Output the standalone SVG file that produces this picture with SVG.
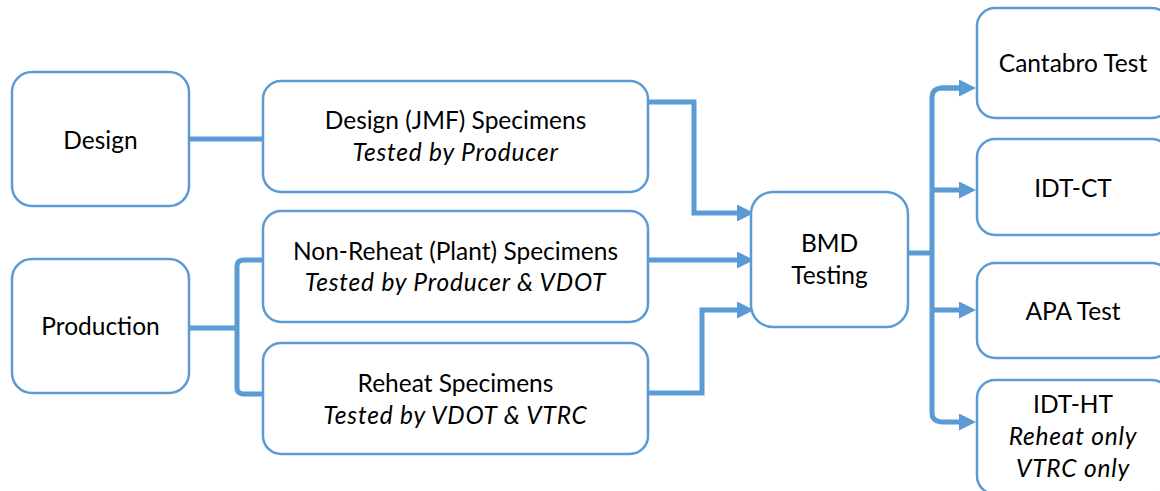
<svg xmlns="http://www.w3.org/2000/svg" width="1160" height="491" viewBox="0 0 1160 491">
  <defs>
    <style>
      .box { fill: #ffffff; stroke: #5b9bd5; stroke-width: 2.5; }
      .link { fill: none; stroke: #5b9bd5; stroke-width: 5; stroke-linejoin: miter; }
      text { font-family: Lato, "Liberation Sans", sans-serif; font-size: 24.5px; fill: #000000; text-anchor: middle; }
      .it { font-style: italic; letter-spacing: 0.8px; }
    </style>
    <marker id="arrow" viewBox="0 0 17 17" refX="7" refY="8.5" markerWidth="17" markerHeight="17" markerUnits="userSpaceOnUse" orient="auto">
      <path d="M0,0 L17,8.5 L0,17 Z" fill="#5b9bd5"/>
    </marker>
  </defs>

  <!-- connectors -->
  <g id="connectors">
    <!-- Design to JMF specimens -->
    <path class="link" d="M189,139 L264,139"/>
    <!-- Production bracket to plant and reheat specimens -->
    <path class="link" d="M189,328 L237,328"/>
    <path class="link" d="M264,260 L244,260 Q237,260 237,266 L237,388 Q237,394 244,394 L264,394"/>
    <!-- specimens to BMD testing -->
    <path class="link" d="M648,102 L694,102 L694,213 L744,213" marker-end="url(#arrow)"/>
    <path class="link" d="M645,260 L744,260" marker-end="url(#arrow)"/>
    <path class="link" d="M648,393 L702,393 L702,310 L744,310" marker-end="url(#arrow)"/>
    <!-- BMD testing fan-out -->
    <path class="link" d="M908,253 L932,253"/>
    <path class="link" d="M966,88 L941,88 Q932,89 932,97 L932,413 Q932,421 941,422 L966,422" marker-end="url(#arrow)"/>
    <path class="link" d="M941,88 L966,88" marker-end="url(#arrow)"/>
    <path class="link" d="M932,190 L966,190" marker-end="url(#arrow)"/>
    <path class="link" d="M932,310 L966,310" marker-end="url(#arrow)"/>
  </g>

  <g id="design">
    <rect class="box" x="12" y="72" width="177" height="134" rx="20"/>
    <text x="100.5" y="149">Design</text>
  </g>

  <g id="production">
    <rect class="box" x="12" y="259" width="177" height="134" rx="20"/>
    <text x="100.5" y="335">Production</text>
  </g>

  <g id="jmf-specimens">
    <rect class="box" x="263" y="81" width="385" height="111" rx="18"/>
    <text x="455.5" y="129">Design (JMF) Specimens</text>
    <text class="it" x="455.5" y="161">Tested by Producer</text>
  </g>

  <g id="plant-specimens">
    <rect class="box" x="263" y="211" width="385" height="111" rx="18"/>
    <text x="455.5" y="260">Non-Reheat (Plant) Specimens</text>
    <text class="it" x="455.5" y="291">Tested by Producer &amp; VDOT</text>
  </g>

  <g id="reheat-specimens">
    <rect class="box" x="263" y="343" width="385" height="111" rx="18"/>
    <text x="455.5" y="392">Reheat Specimens</text>
    <text class="it" x="455.5" y="424">Tested by VDOT &amp; VTRC</text>
  </g>

  <g id="bmd-testing">
    <rect class="box" x="751" y="192" width="157" height="135" rx="22"/>
    <text x="829.5" y="252">BMD</text>
    <text x="829.5" y="284">Testing</text>
  </g>

  <g id="cantabro">
    <rect class="box" x="977" y="8" width="193" height="110" rx="18"/>
    <text x="1073" y="72">Cantabro Test</text>
  </g>

  <g id="idt-ct">
    <rect class="box" x="977" y="139" width="193" height="96" rx="18"/>
    <text x="1073" y="197">IDT-CT</text>
  </g>

  <g id="apa">
    <rect class="box" x="977" y="263" width="193" height="95" rx="18"/>
    <text x="1073" y="320">APA Test</text>
  </g>

  <g id="idt-ht">
    <rect class="box" x="977" y="380" width="193" height="114" rx="18"/>
    <text x="1073" y="413">IDT-HT</text>
    <text class="it" x="1073" y="445">Reheat only</text>
    <text class="it" x="1073" y="477">VTRC only</text>
  </g>
</svg>
